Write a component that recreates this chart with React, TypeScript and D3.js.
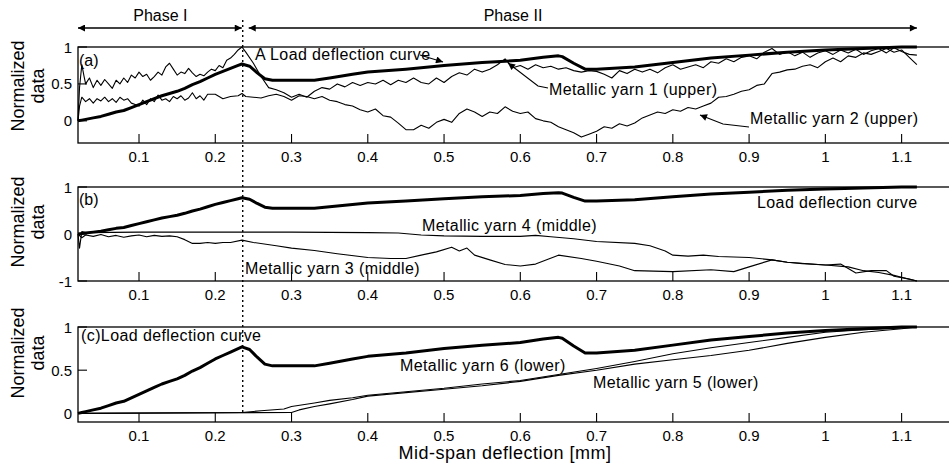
import * as d3 from "d3";
import { useEffect, useRef } from "react";

// x ticks shared by all three panels
const xTicks = [0.1, 0.2, 0.3, 0.4, 0.5, 0.6, 0.7, 0.8, 0.9, 1, 1.1];
const phaseSplit = 0.236;

// load deflection curve (normalized), same in all panels
const loadX = [0.02, 0.025, 0.03, 0.04, 0.05, 0.06, 0.07, 0.08, 0.09, 0.1, 0.11, 0.12, 0.13, 0.14, 0.15, 0.16, 0.17, 0.18, 0.19, 0.2, 0.21, 0.22, 0.23, 0.235, 0.245, 0.255, 0.265, 0.275, 0.3, 0.33, 0.35, 0.38, 0.4, 0.45, 0.5, 0.55, 0.6, 0.63, 0.65, 0.655, 0.67, 0.685, 0.7, 0.75, 0.8, 0.85, 0.9, 0.95, 1.0, 1.05, 1.1, 1.12];
const loadY = [0, 0.01, 0.02, 0.04, 0.06, 0.09, 0.12, 0.14, 0.18, 0.22, 0.26, 0.3, 0.34, 0.37, 0.4, 0.44, 0.49, 0.53, 0.58, 0.63, 0.67, 0.71, 0.75, 0.77, 0.74, 0.65, 0.57, 0.55, 0.55, 0.55, 0.58, 0.63, 0.66, 0.7, 0.75, 0.79, 0.82, 0.86, 0.88, 0.87, 0.78, 0.7, 0.7, 0.73, 0.79, 0.85, 0.89, 0.93, 0.96, 0.98, 1.0, 1.0];

// (a) upper yarns
const yarn1X = [0.02, 0.022, 0.025, 0.028, 0.03, 0.035, 0.04, 0.045, 0.05, 0.055, 0.06, 0.065, 0.07, 0.075, 0.08, 0.085, 0.09, 0.095, 0.1, 0.105, 0.11, 0.115, 0.12, 0.125, 0.13, 0.135, 0.14, 0.145, 0.15, 0.155, 0.16, 0.165, 0.17, 0.175, 0.18, 0.185, 0.19, 0.195, 0.2, 0.205, 0.21, 0.215, 0.22, 0.225, 0.23, 0.235, 0.24, 0.25, 0.26, 0.27, 0.28, 0.29, 0.3, 0.31, 0.32, 0.33, 0.34, 0.35, 0.36, 0.37, 0.38, 0.39, 0.4, 0.41, 0.42, 0.43, 0.44, 0.45, 0.46, 0.47, 0.48, 0.49, 0.5, 0.51, 0.52, 0.53, 0.54, 0.55, 0.56, 0.57, 0.58, 0.59, 0.6, 0.61, 0.62, 0.63, 0.64, 0.65, 0.66, 0.67, 0.68, 0.69, 0.7, 0.71, 0.72, 0.73, 0.74, 0.75, 0.76, 0.77, 0.78, 0.79, 0.8, 0.81, 0.82, 0.83, 0.84, 0.85, 0.86, 0.87, 0.88, 0.89, 0.9, 0.91, 0.92, 0.93, 0.94, 0.95, 0.96, 0.97, 0.98, 0.99, 1.0, 1.01, 1.02, 1.03, 1.04, 1.05, 1.06, 1.07, 1.08, 1.09, 1.1, 1.11, 1.12];
const yarn1Y = [0.0, 0.45, 0.76, 0.6, 0.5, 0.58, 0.45, 0.55, 0.48, 0.56, 0.5, 0.44, 0.55, 0.5, 0.58, 0.52, 0.62, 0.58, 0.66, 0.6, 0.63, 0.55, 0.6, 0.66, 0.62, 0.73, 0.78, 0.7, 0.62, 0.66, 0.64, 0.71, 0.65, 0.6, 0.63, 0.61, 0.66, 0.7, 0.68, 0.75, 0.72, 0.82, 0.85, 0.9, 0.96, 1.0, 0.93, 0.78, 0.6, 0.45, 0.42, 0.38, 0.32, 0.36, 0.32, 0.4, 0.45, 0.43, 0.5, 0.46, 0.52, 0.48, 0.52, 0.5, 0.55, 0.49, 0.55, 0.52, 0.58, 0.52, 0.5, 0.58, 0.52, 0.6, 0.65, 0.62, 0.7, 0.66, 0.7, 0.76, 0.84, 0.72, 0.75, 0.7, 0.76, 0.72, 0.74, 0.7, 0.72, 0.68, 0.66, 0.68, 0.67, 0.63, 0.58, 0.68, 0.64, 0.7, 0.66, 0.7, 0.65, 0.72, 0.76, 0.7, 0.73, 0.76, 0.72, 0.8, 0.78, 0.84, 0.8, 0.86, 0.88, 0.84, 0.93, 0.98, 0.9, 0.94, 0.88, 0.93, 0.86, 0.92, 0.95, 0.9, 0.96, 0.92, 0.97, 0.9, 0.95, 0.98, 0.92, 0.99, 0.94, 0.9, 0.89];
const yarn2X = [0.02, 0.022, 0.025, 0.03, 0.035, 0.04, 0.045, 0.05, 0.055, 0.06, 0.065, 0.07, 0.075, 0.08, 0.085, 0.09, 0.095, 0.1, 0.105, 0.11, 0.115, 0.12, 0.125, 0.13, 0.135, 0.14, 0.145, 0.15, 0.155, 0.16, 0.165, 0.17, 0.175, 0.18, 0.185, 0.19, 0.2, 0.21, 0.22, 0.23, 0.235, 0.24, 0.25, 0.26, 0.27, 0.28, 0.29, 0.3, 0.31, 0.32, 0.33, 0.34, 0.35, 0.36, 0.37, 0.38, 0.39, 0.4, 0.41, 0.42, 0.43, 0.44, 0.45, 0.46, 0.47, 0.48, 0.49, 0.5, 0.51, 0.52, 0.53, 0.54, 0.55, 0.56, 0.57, 0.58, 0.59, 0.6, 0.61, 0.62, 0.63, 0.64, 0.65, 0.66, 0.67, 0.68, 0.69, 0.7, 0.71, 0.72, 0.73, 0.74, 0.75, 0.76, 0.77, 0.78, 0.79, 0.8, 0.81, 0.82, 0.83, 0.84, 0.85, 0.86, 0.87, 0.88, 0.89, 0.9, 0.91, 0.92, 0.93, 0.94, 0.95, 0.96, 0.97, 0.98, 0.99, 1.0, 1.01, 1.02, 1.03, 1.04, 1.05, 1.06, 1.07, 1.08, 1.09, 1.1, 1.11, 1.12];
const yarn2Y = [0.0, 0.2, 0.32, 0.26, 0.3, 0.24, 0.3, 0.27, 0.32, 0.26, 0.3, 0.25, 0.32, 0.28, 0.3, 0.24, 0.22, 0.2, 0.28, 0.22, 0.3, 0.26, 0.35, 0.28, 0.3, 0.26, 0.33, 0.3, 0.34, 0.28, 0.31, 0.38, 0.3, 0.34, 0.28, 0.36, 0.36, 0.3, 0.33, 0.34, 0.37, 0.33, 0.32, 0.31, 0.34, 0.36, 0.33, 0.28, 0.34, 0.33, 0.3, 0.33, 0.28, 0.26, 0.22, 0.2, 0.15, 0.12, 0.16, 0.07, 0.05, -0.03, -0.12, -0.12, -0.06, -0.1, -0.02, 0.02, -0.02, 0.1, 0.16, 0.12, 0.06, 0.12, 0.1, 0.19, 0.13, 0.1, 0.12, 0.03, 0.0, -0.02, -0.08, -0.12, -0.16, -0.22, -0.18, -0.14, -0.08, -0.1, -0.04, -0.07, -0.03, 0.04, 0.08, 0.12, 0.1, 0.15, 0.13, 0.18, 0.16, 0.2, 0.24, 0.32, 0.33, 0.36, 0.4, 0.42, 0.48, 0.5, 0.64, 0.66, 0.69, 0.7, 0.74, 0.76, 0.72, 0.8, 0.85, 0.8, 0.88, 0.86, 0.92, 0.9, 0.94, 0.98, 0.93, 0.96, 0.86, 0.76];

// (b) middle yarns
const yarn4X = [0.02, 0.022, 0.025, 0.03, 0.1, 0.2, 0.3, 0.4, 0.44, 0.47, 0.5, 0.55, 0.6, 0.62, 0.64, 0.67, 0.7, 0.75, 0.77, 0.79, 0.8, 0.82, 0.84, 0.86, 0.9, 0.93, 0.95, 0.97, 1.0, 1.03, 1.05, 1.07, 1.09, 1.1, 1.12];
const yarn4Y = [0.0, -0.3, 0.05, 0.03, 0.04, 0.04, 0.04, 0.03, 0.02, -0.02, -0.04, -0.05, -0.05, -0.03, -0.06, -0.1, -0.16, -0.2, -0.25, -0.36, -0.45, -0.47, -0.45, -0.48, -0.5, -0.55, -0.6, -0.63, -0.66, -0.7, -0.78, -0.82, -0.88, -0.92, -1.0];
const yarn3X = [0.02, 0.025, 0.03, 0.04, 0.05, 0.06, 0.07, 0.08, 0.09, 0.1, 0.11, 0.12, 0.13, 0.14, 0.15, 0.16, 0.17, 0.18, 0.19, 0.2, 0.21, 0.22, 0.235, 0.25, 0.28, 0.3, 0.33, 0.36, 0.4, 0.43, 0.45, 0.47, 0.49, 0.51, 0.52, 0.53, 0.54, 0.56, 0.58, 0.6, 0.62, 0.65, 0.68, 0.7, 0.73, 0.75, 0.8, 0.85, 0.88, 0.9, 0.93, 0.95, 1.0, 1.02, 1.04, 1.06, 1.08, 1.09, 1.11, 1.12];
const yarn3Y = [0.0, -0.08, -0.02, -0.05, -0.01, -0.06, -0.03, -0.07, -0.04, -0.02, -0.06, -0.03, -0.05, -0.04, -0.06, -0.12, -0.2, -0.2, -0.18, -0.2, -0.18, -0.18, -0.13, -0.18, -0.25, -0.3, -0.35, -0.42, -0.5, -0.52, -0.52, -0.45, -0.38, -0.28, -0.36, -0.3, -0.45, -0.55, -0.65, -0.68, -0.64, -0.45, -0.52, -0.58, -0.68, -0.78, -0.8, -0.76, -0.8, -0.7, -0.55, -0.6, -0.66, -0.64, -0.83, -0.78, -0.78, -0.9, -0.96, -1.0];

// (c) lower yarns
const yarn6X = [0.02, 0.235, 0.26, 0.29, 0.3, 0.33, 0.35, 0.38, 0.4, 0.45, 0.5, 0.55, 0.6, 0.65, 0.7, 0.75, 0.8, 0.85, 0.9, 0.95, 1.0, 1.05, 1.1, 1.12];
const yarn6Y = [0, 0.01, 0.03, 0.05, 0.08, 0.12, 0.15, 0.18, 0.21, 0.25, 0.29, 0.34, 0.38, 0.45, 0.52, 0.6, 0.69, 0.76, 0.82, 0.88, 0.94, 0.97, 0.99, 1.0];
const yarn5X = [0.02, 0.3, 0.31, 0.33, 0.35, 0.38, 0.4, 0.45, 0.5, 0.55, 0.6, 0.65, 0.7, 0.75, 0.8, 0.85, 0.9, 0.95, 1.0, 1.05, 1.1, 1.12];
const yarn5Y = [0, 0.01, 0.04, 0.08, 0.11, 0.16, 0.2, 0.24, 0.28, 0.32, 0.37, 0.44, 0.5, 0.57, 0.62, 0.67, 0.73, 0.81, 0.88, 0.94, 0.98, 1.0];

const zip = (xs: number[], ys: number[]) => xs.map((x, i) => [x, ys[i]] as [number, number]);

const W = 949;
const H = 465;
const FONT = "'Liberation Sans', Arial, sans-serif";

interface Panel {
  top: number;
  bottom: number;
  domain: [number, number];
  yTicks: number[];
  labelY: number;
  series: { pts: [number, number][]; w: number }[];
}

const panels: Panel[] = [
  {
    top: 47, bottom: 143, domain: [-0.3, 1], yTicks: [0, 0.5, 1], labelY: 86,
    series: [
      { pts: zip(yarn2X, yarn2Y), w: 1.1 },
      { pts: zip(yarn1X, yarn1Y), w: 1.1 },
      { pts: zip(loadX, loadY), w: 3 },
    ],
  },
  {
    top: 187, bottom: 281, domain: [-1, 1], yTicks: [-1, 0, 1], labelY: 222,
    series: [
      { pts: zip(yarn4X, yarn4Y), w: 1.1 },
      { pts: zip(yarn3X, yarn3Y), w: 1.1 },
      { pts: zip(loadX, loadY), w: 3 },
    ],
  },
  {
    top: 327, bottom: 422, domain: [-0.1, 1], yTicks: [0, 0.5, 1], labelY: 353,
    series: [
      { pts: zip(yarn6X, yarn6Y), w: 1.1 },
      { pts: zip(yarn5X, yarn5Y), w: 1.1 },
      { pts: zip(loadX, loadY), w: 3 },
    ],
  },
];

export default function App() {
  const ref = useRef<SVGSVGElement | null>(null);

  useEffect(() => {
    const svg = d3.select(ref.current);
    svg.selectAll("*").remove();

    const x = d3.scaleLinear().domain([0.02, 1.17]).range([78, 955]);

    const defs = svg.append("defs");
    defs
      .append("marker")
      .attr("id", "arr")
      .attr("viewBox", "0 0 10 10")
      .attr("refX", 10)
      .attr("refY", 5)
      .attr("markerWidth", 9)
      .attr("markerHeight", 7)
      .attr("markerUnits", "userSpaceOnUse")
      .attr("orient", "auto-start-reverse")
      .append("path")
      .attr("d", "M0,0 L10,5 L0,10 z")
      .attr("fill", "#000");

    const text = (s: string, tx: number, ty: number, size = 16, anchor = "start", ls = 0.4) =>
      svg
        .append("text")
        .attr("x", tx)
        .attr("y", ty)
        .attr("font-family", FONT)
        .attr("font-size", size)
        .attr("text-anchor", anchor)
        .attr("letter-spacing", ls)
        .attr("fill", "#000")
        .text(s);

    panels.forEach((p) => {
      const y = d3.scaleLinear().domain(p.domain).range([p.bottom, p.top]);
      const g = svg.append("g");

      // box
      g.append("rect")
        .attr("x", x.range()[0])
        .attr("y", p.top)
        .attr("width", x.range()[1] - x.range()[0])
        .attr("height", p.bottom - p.top)
        .attr("fill", "#fff")
        .attr("stroke", "#000")
        .attr("stroke-width", 1.3);

      // x ticks (inside)
      xTicks.forEach((t) => {
        g.append("line")
          .attr("x1", x(t)).attr("x2", x(t))
          .attr("y1", p.bottom).attr("y2", p.bottom - 9)
          .attr("stroke", "#000").attr("stroke-width", 1.1);
        text(String(t), x(t), p.bottom + 19, 15, "middle", 0);
      });

      // y ticks
      p.yTicks.forEach((t) => {
        g.append("line")
          .attr("x1", x.range()[0]).attr("x2", x.range()[0] + 9)
          .attr("y1", y(t)).attr("y2", y(t))
          .attr("stroke", "#000").attr("stroke-width", 1.1);
        text(String(t), 72, y(t) + 5.5, 15, "end", 0);
      });

      const line = d3
        .line<[number, number]>()
        .x((d) => x(d[0]))
        .y((d) => y(d[1]));

      p.series.forEach((s) => {
        g.append("path")
          .attr("d", line(s.pts))
          .attr("fill", "none")
          .attr("stroke", "#000")
          .attr("stroke-width", s.w)
          .attr("stroke-linejoin", "round");
      });

      // y label
      ["Normalized", "data"].forEach((s, i) => {
        svg
          .append("text")
          .attr("transform", `translate(${18 + i * 20},${p.labelY}) rotate(-90)`)
          .attr("font-family", FONT)
          .attr("font-size", 18)
          .attr("text-anchor", "middle")
          .attr("dominant-baseline", "central")
          .text(s);
      });
    });

    // phase divider
    svg
      .append("line")
      .attr("x1", x(phaseSplit)).attr("x2", x(phaseSplit))
      .attr("y1", 20).attr("y2", 413)
      .attr("stroke", "#000")
      .attr("stroke-width", 1.4)
      .attr("stroke-dasharray", "2,3");

    // phase arrows
    const arrow = (x1: number, x2: number) =>
      svg
        .append("line")
        .attr("x1", x1).attr("x2", x2)
        .attr("y1", 28).attr("y2", 28)
        .attr("stroke", "#000")
        .attr("stroke-width", 1.3)
        .attr("marker-start", "url(#arr)")
        .attr("marker-end", "url(#arr)");
    arrow(x(0.02), x(phaseSplit) - 1);
    arrow(x(phaseSplit) + 6, x(1.12));
    text("Phase I", (x(0.02) + x(phaseSplit)) / 2, 21, 16, "middle", 0);
    text("Phase II", 513, 21, 16, "middle", 0);

    // annotations (a)
    text("(a)", 79, 66, 16, "start", 0);
    text("A Load deflection curve", 255, 60);
    svg.append("path")
      .attr("d", "M420,55 L443,62")
      .attr("stroke", "#000").attr("stroke-width", 1.1).attr("fill", "none")
      .attr("marker-end", "url(#arr)");
    text("Metallic yarn 1 (upper)", 549, 95);
    svg.append("path")
      .attr("d", "M548,88 L538,86 L508,63")
      .attr("stroke", "#000").attr("stroke-width", 1.1).attr("fill", "none")
      .attr("marker-end", "url(#arr)");
    text("Metallic yarn 2 (upper)", 750, 124);
    svg.append("path")
      .attr("d", "M749,127 L723,124 L700,115")
      .attr("stroke", "#000").attr("stroke-width", 1.1).attr("fill", "none")
      .attr("marker-end", "url(#arr)");

    // annotations (b)
    text("(b)", 79, 205, 16, "start", 0);
    text("Load deflection curve", 757, 208);
    text("Metallic yarn 4 (middle)", 422, 231);
    text("Metallic yarn 3 (middle)", 245, 274);

    // annotations (c)
    text("(c)Load deflection curve", 81, 341);
    text("Metallic yarn 6 (lower)", 400, 371);
    text("Metallic yarn 5 (lower)", 593, 388);

    text("Mid-span deflection [mm]", 505, 459, 18, "middle", 0.5);
  }, []);

  return (
    <svg
      ref={ref}
      width={W}
      height={H}
      style={{ position: "absolute", left: 0, top: 0, background: "#fff" }}
    />
  );
}
